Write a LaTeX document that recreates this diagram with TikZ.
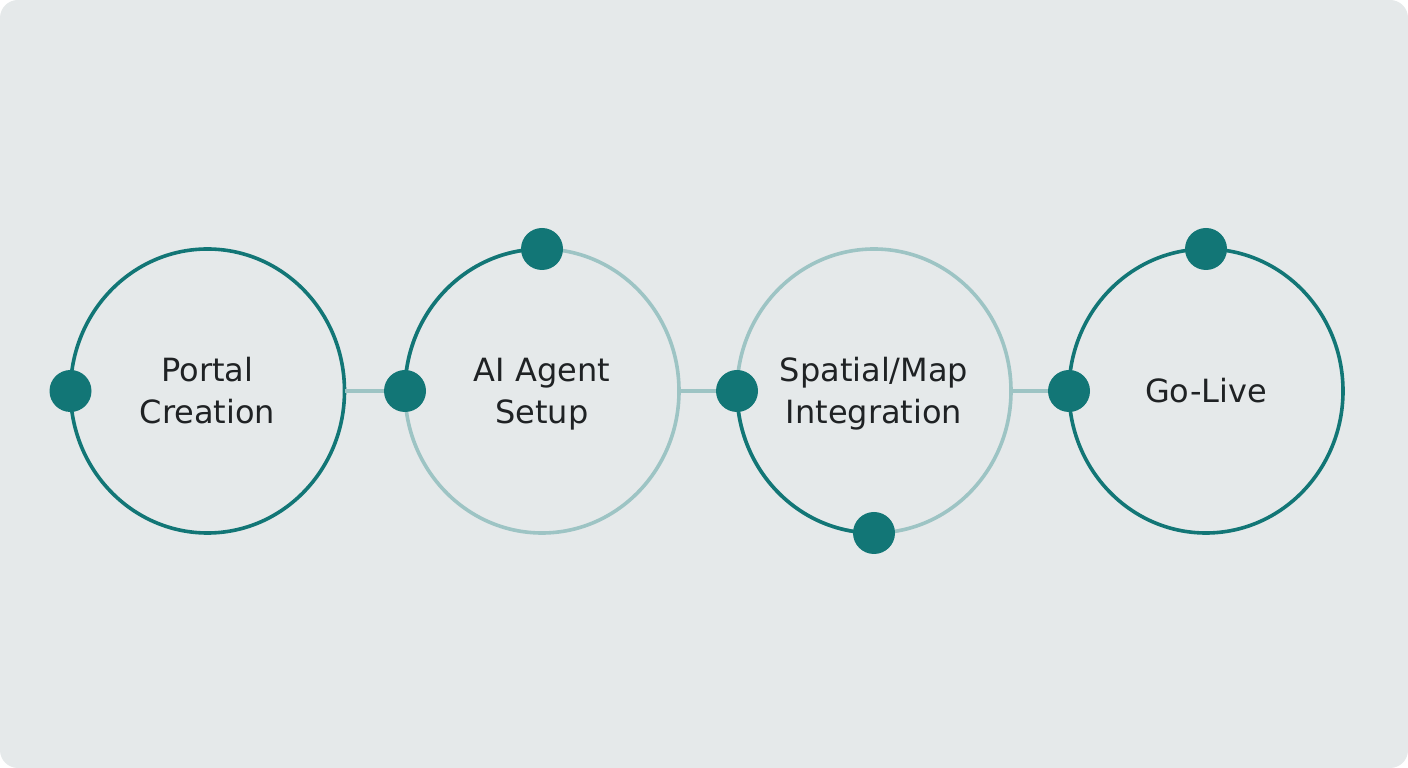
\documentclass[tikz,border=0pt]{standalone}
\usepackage{fontspec}
\setmainfont{DejaVu Sans}
\usetikzlibrary{shapes.geometric}
\definecolor{bgcol}{HTML}{E5E9EA}
\definecolor{darkteal}{HTML}{127676}
\definecolor{lightteal}{HTML}{9DC4C4}
\definecolor{txtcol}{HTML}{1F2224}
\tikzset{
  ring/.style={ellipse, draw=lightteal, line width=3.6pt, minimum width=274pt, minimum height=284pt,
    inner sep=0pt, outer sep=0pt, align=center, text=txtcol,
    font=\fontsize{32}{42}\selectfont, text depth=0pt},
  fullring/.style={ring, draw=darkteal},
  twoline/.style={text height=65pt},
  oneline/.style={text height=23pt},
  darkarc/.style={draw=darkteal, line width=3.6pt},
  conn/.style={draw=lightteal, line width=3.6pt},
  dot/.style={circle, fill=darkteal, minimum size=42pt, inner sep=0pt, outer sep=0pt}
}
\begin{document}
\begin{tikzpicture}[x=1pt,y=1pt]
\useasboundingbox (0,0) rectangle (1408,768);
\fill[white] (0,0) rectangle (1408,768);
\fill[bgcol, rounded corners=18pt] (0,0) rectangle (1408,768);
% rings
\node[fullring, twoline] (r1) at (207.5,377) {Portal\\Creation};
\node[ring, twoline] (r2) at (542,377) {AI Agent\\Setup};
\node[ring, twoline] (r3) at (874,377) {Spatial/Map\\Integration};
\node[fullring, oneline] (r4) at (1206,377) {Go-Live};
% progress arcs
\draw[darkarc] (r2.west) arc[start angle=180, end angle=90, x radius=137pt, y radius=142pt];
\draw[darkarc] (r3.west) arc[start angle=180, end angle=270, x radius=137pt, y radius=142pt];
% connectors
\draw[conn] (r1.east) -- (r2.west);
\draw[conn] (r2.east) -- (r3.west);
\draw[conn] (r3.east) -- (r4.west);
% dots
\node[dot] (d1) at (r1.west) {};
\node[dot] (d2a) at (r2.west) {};
\node[dot] (d2b) at (r2.north) {};
\node[dot] (d3a) at (r3.west) {};
\node[dot] (d3b) at (r3.south) {};
\node[dot] (d4a) at (r4.west) {};
\node[dot] (d4b) at (r4.north) {};
\end{tikzpicture}
\end{document}
